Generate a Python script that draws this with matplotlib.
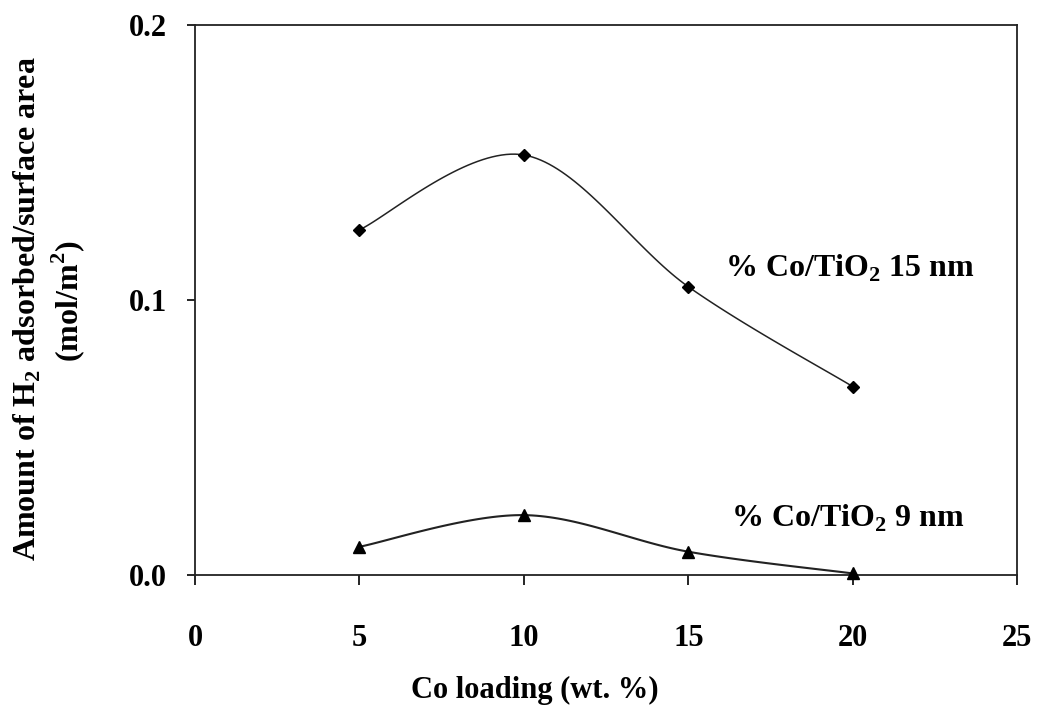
import numpy as np
import matplotlib
matplotlib.use("Agg")
import matplotlib.pyplot as plt

loading = [5, 10, 15, 20]
h2_15nm = [0.1255, 0.1527, 0.1048, 0.0685]
h2_9nm = [0.0103, 0.0218, 0.0085, 0.0006]
x_ticks = [0, 5, 10, 15, 20, 25]
y_ticks = [0.0, 0.1, 0.2]
y_tick_labels = ["0.0", "0.1", "0.2"]

plt.rcParams['font.family'] = ['Liberation Serif', 'DejaVu Serif']
plt.rcParams['mathtext.fontset'] = 'custom'
plt.rcParams['mathtext.rm'] = 'Liberation Serif:bold'
plt.rcParams['mathtext.bf'] = 'Liberation Serif:bold'


def smooth(xs, ys, n=40):
    # Catmull-Rom style smoothing (as in spreadsheet "smoothed line")
    xs = np.asarray(xs, float)
    ys = np.asarray(ys, float)
    P = np.column_stack([xs, ys])
    P = np.vstack([P[0], P, P[-1]])
    out = []
    t = np.linspace(0, 1, n)
    for i in range(1, len(P) - 2):
        p0, p1, p2, p3 = P[i - 1], P[i], P[i + 1], P[i + 2]
        m1 = (p2 - p0) / 2
        m2 = (p3 - p1) / 2
        h00 = 2 * t**3 - 3 * t**2 + 1
        h10 = t**3 - 2 * t**2 + t
        h01 = -2 * t**3 + 3 * t**2
        h11 = t**3 - t**2
        seg = (np.outer(h00, p1) + np.outer(h10, m1)
               + np.outer(h01, p2) + np.outer(h11, m2))
        out.append(seg if i == 1 else seg[1:])
    S = np.vstack(out)
    return S[:, 0], S[:, 1]


fig = plt.figure(figsize=(10.37, 7.10), dpi=100)
ax = fig.add_axes([0.188, 0.190, 0.793, 0.775])

sx, sy = smooth(loading, h2_15nm)
ax.plot(sx, sy, color='#222222', lw=1.1)
ax.plot(loading, h2_15nm, linestyle='none', marker='D', ms=6.5, color='black',
        clip_on=False)

sx, sy = smooth(loading, h2_9nm)
ax.plot(sx, sy, color='#222222', lw=1.5)
ax.plot(loading, h2_9nm, linestyle='none', marker='^', ms=8, color='black',
        clip_on=False, zorder=5)

ax.set_xlim(0, 25)
ax.set_ylim(0, 0.2)
ax.set_xticks(x_ticks)
ax.set_xticklabels([str(v) for v in x_ticks])
ax.set_yticks(y_ticks)
ax.set_yticklabels(y_tick_labels)
ax.tick_params(axis='both', direction='out', length=7, width=1.2, labelsize=22,
               colors='black')
ax.tick_params(axis='x', pad=28)
ax.tick_params(axis='y', pad=14, length=6)
for lab in ax.get_xticklabels() + ax.get_yticklabels():
    lab.set_fontweight('bold')
for sp in ax.spines.values():
    sp.set_linewidth(1.3)
    sp.set_color('#222222')

fig.text(0.516, 0.028, 'Co loading (wt. %)', fontsize=22, fontweight='bold',
         ha='center', va='center')
fig.text(0.026, 0.565, r'Amount of H$_2$ adsorbed/surface area', rotation=90,
         fontsize=23, fontweight='bold', ha='center', va='center')
fig.text(0.066, 0.575, r'(mol/m$^2$)', rotation=90,
         fontsize=23, fontweight='bold', ha='center', va='center')

ax.text(16.1, 0.1116, r'% Co/TiO$_2$ 15 nm', fontsize=23, fontweight='bold',
        va='center')
ax.text(16.3, 0.0205, r'% Co/TiO$_2$ 9 nm', fontsize=23, fontweight='bold',
        va='center')

fig.savefig('out.png', dpi=100, facecolor='white')
